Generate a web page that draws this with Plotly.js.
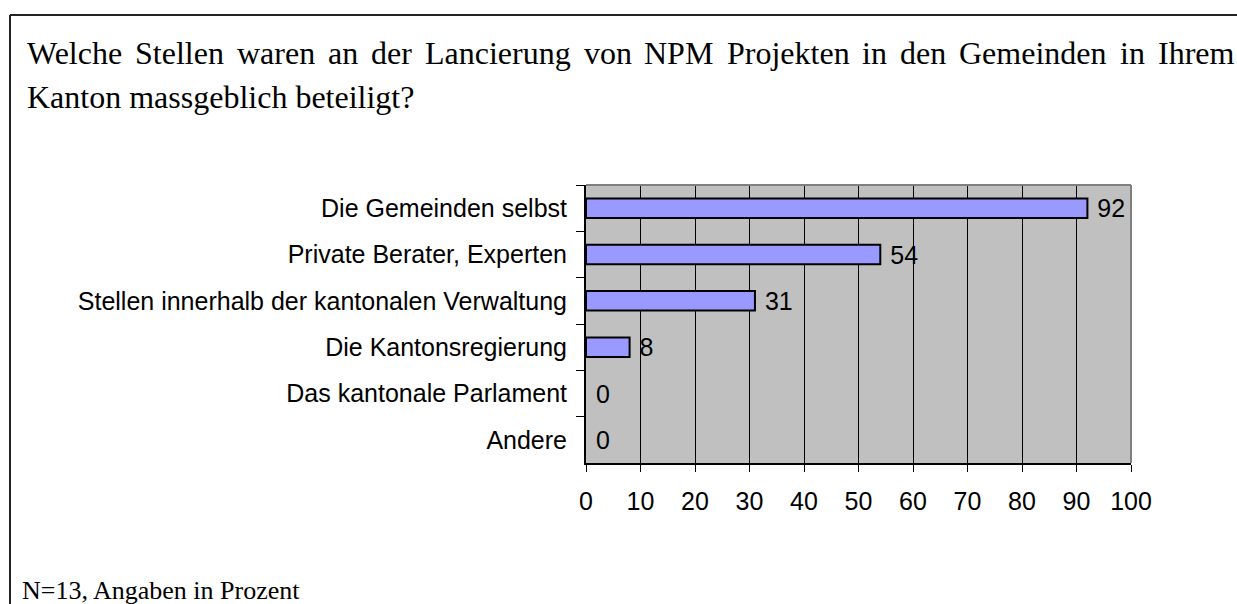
<!DOCTYPE html>
<html>
<head>
<meta charset="utf-8">
<script src="https://cdn.plot.ly/plotly-3.0.1.min.js"></script>
<style>html,body{margin:0;padding:0;background:#fff;}#chart{width:1237px;height:604px;}</style>
</head>
<body>
<div id="chart"></div>
<script>
// ---- data ----
const categories = [
  'Die Gemeinden selbst',
  'Private Berater, Experten',
  'Stellen innerhalb der kantonalen Verwaltung',
  'Die Kantonsregierung',
  'Das kantonale Parlament',
  'Andere'
];
const values = [92, 54, 31, 8, 0, 0];
const xTickValues = [0, 10, 20, 30, 40, 50, 60, 70, 80, 90, 100];
const titleLine1 = 'Welche Stellen waren an der Lancierung von NPM Projekten in den Gemeinden in Ihrem';
const titleLine2 = 'Kanton massgeblich beteiligt?';
const footnote = 'N=13, Angaben in Prozent';

// ---- layout geometry (pixels) ----
const W = 1237, H = 604;
const PL = 586, PR = 1131, PT = 185, PB = 463;
const px2x = p => (p - PL) / (PR - PL);
const py2y = p => (PB - p) / (PB - PT);

const serif = '"Liberation Serif", "Times New Roman", serif';
const sans = '"Liberation Sans", Arial, sans-serif';
const titleSize = 32;

// justify first title line across the box
const cv = document.createElement('canvas').getContext('2d');
cv.font = titleSize + 'px "Liberation Serif"';
const words = titleLine1.split(' ');
const widths = words.map(w => cv.measureText(w).width);
const startX = 26, endX = 1233;
const total = widths.reduce((a, b) => a + b, 0);
const gap = (endX - startX - total) / (words.length - 1);
const annotations = [];
let cx = startX;
words.forEach((w, i) => {
  annotations.push({
    text: w, x: px2x(cx - 1), y: py2y(53), xref: 'paper', yref: 'paper',
    xanchor: 'left', yanchor: 'middle', showarrow: false,
    font: {family: serif, size: titleSize, color: '#000'}
  });
  cx += widths[i] + gap;
});
annotations.push({
  text: titleLine2, x: px2x(25), y: py2y(97), xref: 'paper', yref: 'paper',
  xanchor: 'left', yanchor: 'middle', showarrow: false,
  font: {family: serif, size: titleSize, color: '#000'}
});
annotations.push({
  text: footnote, x: px2x(20), y: py2y(590), xref: 'paper', yref: 'paper',
  xanchor: 'left', yanchor: 'middle', showarrow: false,
  font: {family: serif, size: 26, color: '#000'}
});

const trace = {
  type: 'bar',
  orientation: 'h',
  x: values,
  y: categories,
  marker: {color: '#9999FF', line: {color: '#000', width: values.map(v => v > 0 ? 2 : 0)}},
  text: values.map(v => '\u00a0' + v),
  textposition: 'outside',
  constraintext: 'none',
  textfont: {family: sans, size: 25, color: '#000'},
  cliponaxis: false,
  hoverinfo: 'skip'
};

const layout = {
  width: W, height: H,
  margin: {l: PL, r: W - PR, t: PT, b: H - PB, pad: 0},
  paper_bgcolor: '#fff',
  plot_bgcolor: '#C0C0C0',
  showlegend: false,
  bargap: 0.58,
  font: {family: sans, size: 25, color: '#000'},
  xaxis: {
    range: [0, 100], tickvals: xTickValues, ticktext: xTickValues.map(String),
    ticks: 'outside', ticklen: 7, tickcolor: '#000', tickwidth: 1,
    ticklabelstandoff: 8,
    showgrid: true, gridcolor: '#000', gridwidth: 1,
    showline: true, linecolor: '#000', linewidth: 2, zeroline: false,
    tickfont: {family: sans, size: 25, color: '#000'},
    fixedrange: true
  },
  yaxis: {
    type: 'category', autorange: 'reversed',
    tickson: 'boundaries', ticks: 'outside', ticklen: 8, tickcolor: '#000', tickwidth: 1,
    ticklabelstandoff: 12,
    showgrid: false, showline: true, linecolor: '#000', linewidth: 2, zeroline: false,
    tickfont: {family: sans, size: 25, color: '#000'},
    fixedrange: true
  },
  shapes: [
    // grey plot frame (top and right)
    {type: 'line', xref: 'paper', yref: 'paper', x0: 0, x1: 1, y0: 1, y1: 1, line: {color: '#808080', width: 2}, layer: 'above'},
    {type: 'line', xref: 'paper', yref: 'paper', x0: 1, x1: 1, y0: 0, y1: 1, line: {color: '#808080', width: 2}, layer: 'above'},
    // outer document box
    {type: 'line', xref: 'paper', yref: 'paper', x0: px2x(10), x1: px2x(1245), y0: py2y(15), y1: py2y(15), line: {color: '#222', width: 2}},
    {type: 'line', xref: 'paper', yref: 'paper', x0: px2x(10), x1: px2x(10), y0: py2y(15), y1: py2y(610), line: {color: '#222', width: 2}}
  ],
  annotations: annotations
};

Plotly.newPlot('chart', [trace], layout, {displayModeBar: false, staticPlot: true});
</script>
</body>
</html>
